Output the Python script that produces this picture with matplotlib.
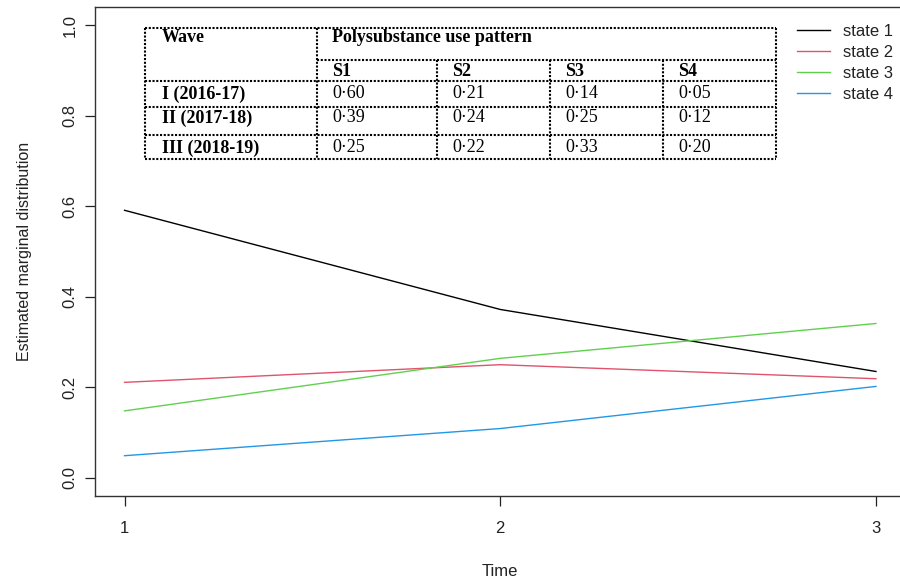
import numpy as np
import matplotlib
matplotlib.use("Agg")
import matplotlib.pyplot as plt

# dados das curvas
tempo = [1, 2, 3]
estado1 = [0.591, 0.372, 0.235]
estado2 = [0.211, 0.250, 0.219]
estado3 = [0.148, 0.264, 0.341]
estado4 = [0.049, 0.109, 0.202]
rotulos = ["state 1", "state 2", "state 3", "state 4"]
cores = ["#000000", "#DF536B", "#61D04F", "#2297E6"]

# dados da tabela
ondas = ["I (2016-17)", "II (2017-18)", "III (2018-19)"]
padroes = ["S1", "S2", "S3", "S4"]
tab_s1 = [0.60, 0.39, 0.25]
tab_s2 = [0.21, 0.24, 0.22]
tab_s3 = [0.14, 0.25, 0.33]
tab_s4 = [0.05, 0.12, 0.20]

plt.rcParams['font.family'] = ['Liberation Sans', 'DejaVu Sans']

W, H = 900, 581
fig = plt.figure(figsize=(W / 100, H / 100), dpi=100)

# eixo principal (a borda direita fica fora da imagem, como no original)
esq, dir_, topo, base = 94.5, 906, 7, 496
ax = fig.add_axes([esq / W, (H - base) / H, (dir_ - esq) / W, (base - topo) / H])
for y, c, r in zip([estado1, estado2, estado3, estado4], cores, rotulos):
    ax.plot(tempo, y, color=c, lw=1.0, label=r)
ax.set_xlim(0.92, 3.08)
ax.set_ylim(-0.04, 1.04)
ax.set_xticks([1, 2, 3])
ax.set_yticks([0.0, 0.2, 0.4, 0.6, 0.8, 1.0])
ax.set_yticklabels(["0.0", "0.2", "0.4", "0.6", "0.8", "1.0"], rotation=90, va="center")
ax.tick_params(axis="both", length=7, width=0.9, labelsize=12, colors="#222222")
ax.tick_params(axis="y", pad=5)
ax.tick_params(axis="x", pad=11)
for s in ax.spines.values():
    s.set_linewidth(1.0)
    s.set_color("#333333")
ax.set_xlabel("Time", fontsize=12, labelpad=20, color="#222222")
ax.set_ylabel("Estimated marginal distribution", fontsize=11.5, labelpad=22, color="#222222")

leg = ax.legend(loc="upper left", bbox_to_anchor=(797 / W, 1 - 24 / H),
                bbox_transform=fig.transFigure, frameon=False, fontsize=12,
                handlelength=1.95, handletextpad=0.8, labelspacing=0.36,
                borderpad=0, borderaxespad=0)
for t in leg.get_texts():
    t.set_color("#222222")

# tabela desenhada em coordenadas de pixel
tx = fig.add_axes([0, 0, 1, 1], facecolor="none")
tx.set_xlim(0, W)
tx.set_ylim(H, 0)
tx.axis("off")

col_x = [145, 317, 437, 550, 663, 776]
lin_y = [28, 60, 81, 107, 135, 159]
estilo = dict(color="black", lw=1.5, linestyle=(0, (1, 0.8)))

# linhas horizontais
tx.plot([col_x[0], col_x[-1]], [lin_y[0]] * 2, **estilo)
tx.plot([col_x[1], col_x[-1]], [lin_y[1]] * 2, **estilo)
for y in lin_y[2:]:
    tx.plot([col_x[0], col_x[-1]], [y] * 2, **estilo)
# linhas verticais
for x in [col_x[0], col_x[1], col_x[-1]]:
    tx.plot([x, x], [lin_y[0], lin_y[-1]], **estilo)
for x in col_x[2:-1]:
    tx.plot([x, x], [lin_y[1], lin_y[-1]], **estilo)

serif = ['Liberation Serif', 'DejaVu Serif']
fs = 13
tx.text(col_x[0] + 17, 38, "Wave", fontsize=fs, fontweight="bold", family=serif, va="center")
tx.text(col_x[1] + 15, 38, "Polysubstance use pattern", fontsize=fs, fontweight="bold",
        family=serif, va="center")
for x, p in zip(col_x[1:-1], padroes):
    tx.text(x + 15, 71, p, fontsize=fs, fontweight="bold", family=serif, va="center")

linha_y = [94, 118, 148]
colunas = [tab_s1, tab_s2, tab_s3, tab_s4]
for i, (y, onda) in enumerate(zip(linha_y, ondas)):
    tx.text(col_x[0] + 17, y, onda, fontsize=fs, fontweight="bold", family=serif, va="center")
    for x, col in zip(col_x[1:-1], colunas):
        tx.text(x + 15, y, f"{col[i]:.2f}".replace(".", "\u00b7"), fontsize=fs,
                family=serif, va="center")

fig.savefig("out.png", dpi=100)
